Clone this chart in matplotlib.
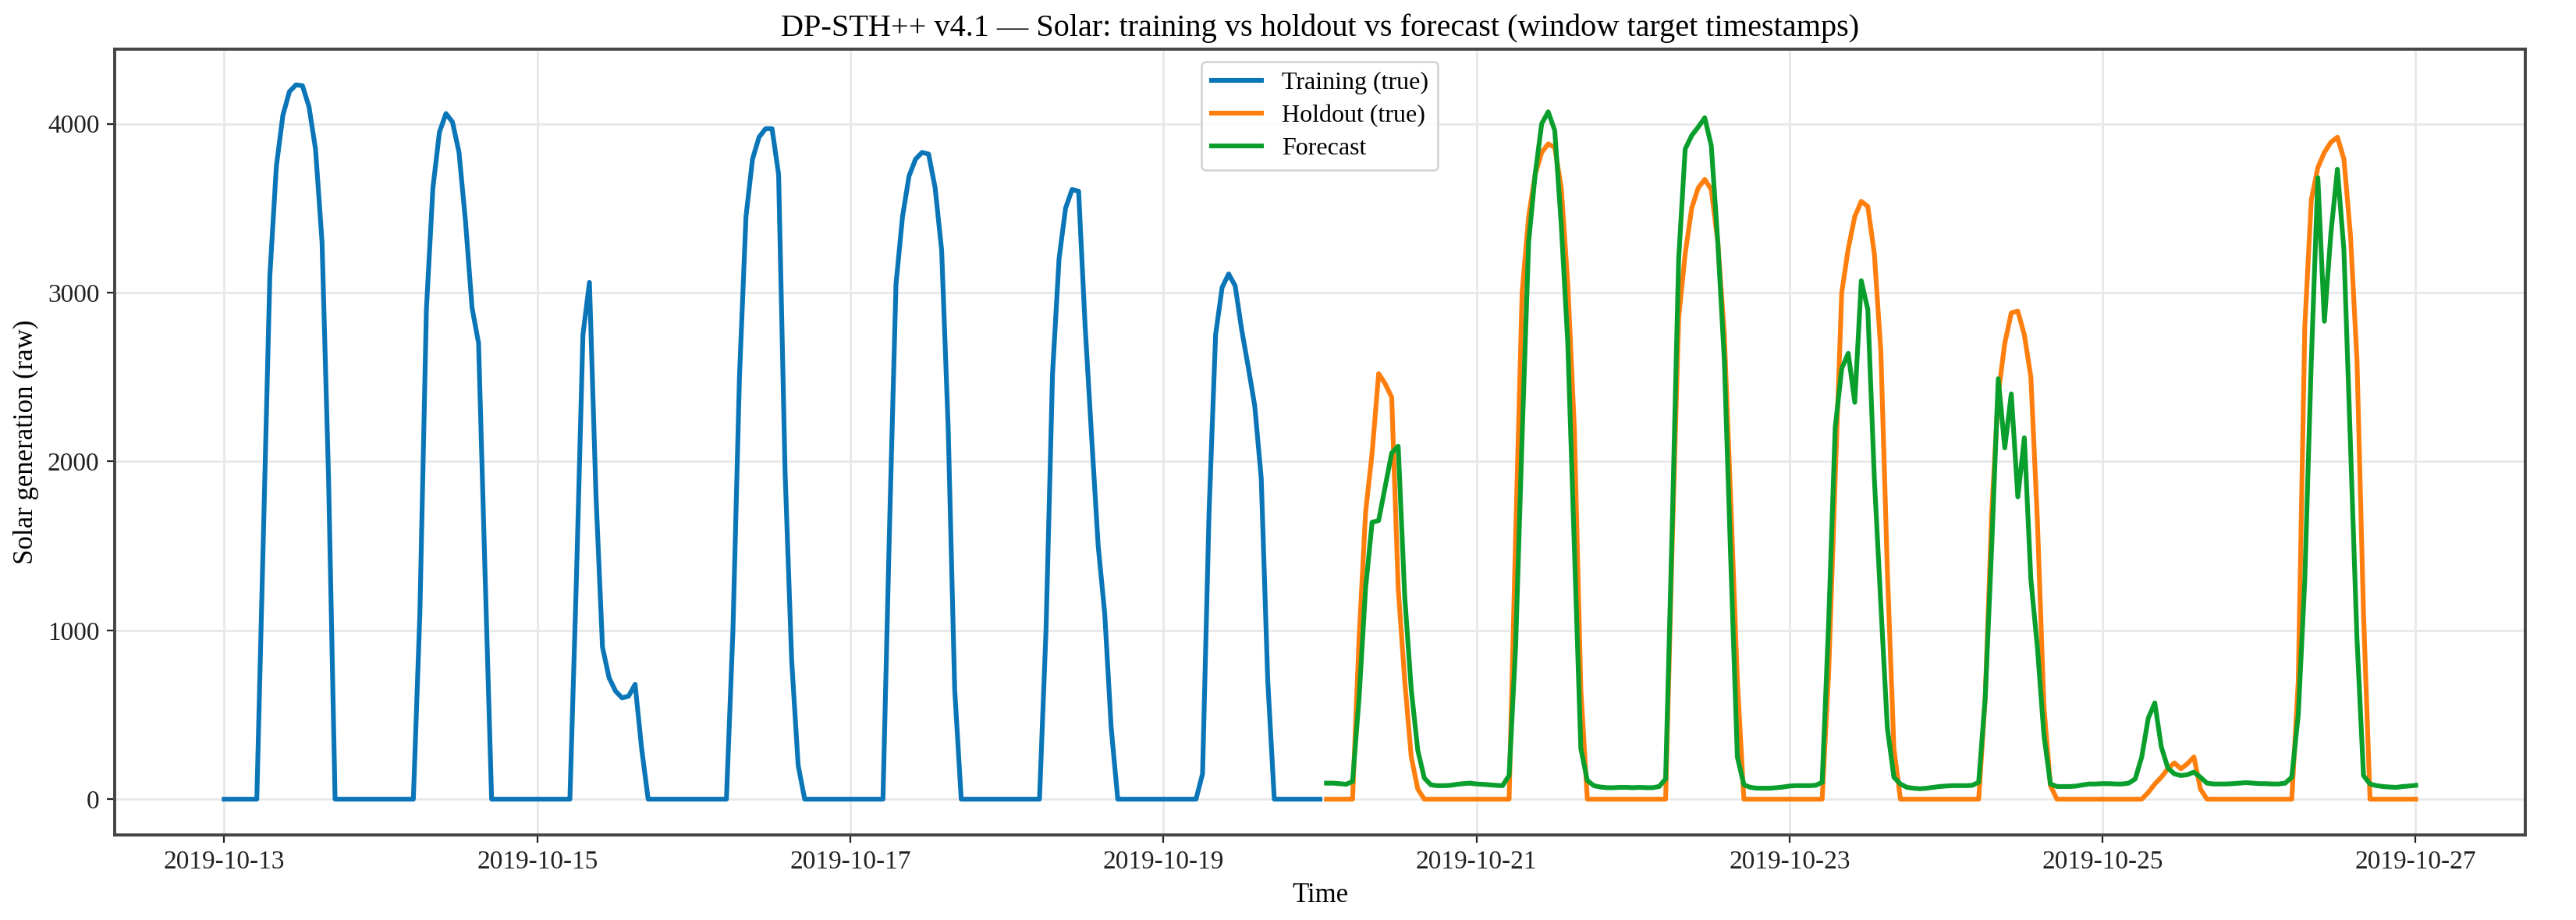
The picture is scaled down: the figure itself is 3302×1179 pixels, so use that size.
import matplotlib
matplotlib.use("Agg")
import matplotlib.pyplot as plt
import matplotlib.dates as mdates
import pandas as pd

plt.rcParams['font.family'] = ['Liberation Serif', 'DejaVu Serif']

# hourly samples, training 2019-10-13 00:00 .. 2019-10-20 00:00
train_start = '2019-10-13 00:00'
train_vals = [
    # 10-13
    0, 0, 0, 0, 0, 0, 1550, 3100, 3750, 4050, 4190, 4230, 4225, 4100, 3850, 3300, 1900, 0, 0, 0, 0, 0, 0, 0,
    # 10-14
    0, 0, 0, 0, 0, 0, 1100, 2900, 3620, 3950, 4060, 4010, 3830, 3420, 2910, 2700, 1330, 0, 0, 0, 0, 0, 0, 0,
    # 10-15
    0, 0, 0, 0, 0, 0, 1300, 2750, 3060, 1800, 900, 720, 640, 600, 610, 680, 300, 0, 0, 0, 0, 0, 0, 0,
    # 10-16
    0, 0, 0, 0, 0, 0, 1000, 2500, 3450, 3790, 3920, 3970, 3970, 3700, 1930, 825, 200, 0, 0, 0, 0, 0, 0, 0,
    # 10-17
    0, 0, 0, 0, 0, 0, 1600, 3050, 3450, 3690, 3790, 3830, 3820, 3620, 3250, 2200, 650, 0, 0, 0, 0, 0, 0, 0,
    # 10-18
    0, 0, 0, 0, 0, 0, 1000, 2520, 3200, 3500, 3610, 3600, 2800, 2140, 1500, 1100, 420, 0, 0, 0, 0, 0, 0, 0,
    # 10-19
    0, 0, 0, 0, 0, 0, 150, 1700, 2750, 3030, 3110, 3040, 2780, 2560, 2330, 1900, 700, 0, 0, 0, 0, 0, 0, 0,
    # 10-20 00:00
    0,
]

# holdout / forecast window targets, 2019-10-20 01:00 .. 2019-10-27 00:00
hold_start = '2019-10-20 01:00'
holdout_vals = [
    # 10-20 (01:00 ..)
    0, 0, 0, 0, 0, 950, 1700, 2050, 2520, 2460, 2380, 1250, 700, 250, 60, 0, 0, 0, 0, 0, 0, 0, 0,
    # 10-21
    0, 0, 0, 0, 0, 0, 1550, 3000, 3450, 3700, 3830, 3880, 3860, 3620, 3050, 2200, 650, 0, 0, 0, 0, 0, 0, 0,
    # 10-22
    0, 0, 0, 0, 0, 0, 1500, 2850, 3230, 3500, 3620, 3670, 3610, 3300, 2750, 1750, 700, 0, 0, 0, 0, 0, 0, 0,
    # 10-23
    0, 0, 0, 0, 0, 0, 750, 1900, 3000, 3260, 3450, 3540, 3510, 3230, 2650, 1350, 300, 0, 0, 0, 0, 0, 0, 0,
    # 10-24
    0, 0, 0, 0, 0, 0, 600, 1700, 2400, 2700, 2880, 2890, 2750, 2500, 1650, 550, 80, 0, 0, 0, 0, 0, 0, 0,
    # 10-25
    0, 0, 0, 0, 0, 0, 0, 40, 90, 130, 180, 215, 180, 210, 250, 60, 0, 0, 0, 0, 0, 0, 0, 0,
    # 10-26 .. 10-27 00:00
    0, 0, 0, 0, 0, 0, 700, 2800, 3550, 3740, 3830, 3890, 3920, 3790, 3340, 2600, 1100, 0, 0, 0, 0, 0, 0, 0, 0,
]

forecast_vals = [
    # 10-20 (01:00 ..)
    95, 95, 92, 88, 105, 600, 1250, 1640, 1650, 1850, 2050, 2090, 1200, 650, 290, 125, 85, 80, 80, 82, 88, 92, 95,
    # 10-21
    90, 88, 85, 82, 80, 140, 900, 2150, 3300, 3700, 4000, 4070, 3960, 3400, 2700, 1500, 300, 110, 80, 72, 68, 68, 70, 70,
    # 10-22
    68, 70, 68, 68, 75, 120, 1600, 3200, 3850, 3930, 3980, 4035, 3870, 3300, 2600, 1400, 250, 85, 70, 65, 65, 65, 68, 72,
    # 10-23
    78, 80, 80, 80, 82, 100, 1050, 2200, 2550, 2640, 2350, 3070, 2900, 1900, 1150, 420, 130, 90, 70, 65, 62, 65, 70, 75,
    # 10-24
    78, 80, 80, 80, 82, 100, 600, 1500, 2490, 2080, 2400, 1790, 2140, 1300, 900, 380, 90, 75, 75, 75, 78, 85, 90, 90,
    # 10-25
    92, 92, 90, 90, 95, 120, 250, 480, 570, 310, 185, 150, 140, 145, 160, 130, 95, 90, 90, 90, 92, 95, 98, 95,
    # 10-26 .. 10-27 00:00
    92, 92, 90, 90, 95, 130, 500, 1300, 2600, 3680, 2830, 3350, 3730, 3250, 2100, 950, 140, 90, 80, 75, 72, 70, 75, 78, 82,
]

train_t = pd.date_range(train_start, periods=len(train_vals), freq='h')
hold_t = pd.date_range(hold_start, periods=len(holdout_vals), freq='h')

fig = plt.figure(figsize=(16.51, 5.895), dpi=200)
ax = fig.add_axes([0.0445, 0.0925, 0.9358, 0.8541])

ax.plot(train_t, train_vals, color='#0a76b8', lw=2.2, label='Training (true)')
ax.plot(hold_t, holdout_vals, color='#ff7f0e', lw=2.2, label='Holdout (true)')
ax.plot(hold_t, forecast_vals, color='#0a9f2d', lw=2.2, label='Forecast')

# ticks on odd days, like the auto locator picked
ax.xaxis.set_major_locator(mdates.DayLocator(bymonthday=range(1, 32, 2)))
ax.xaxis.set_major_formatter(mdates.DateFormatter('%Y-%m-%d'))
ax.set_yticks([0, 1000, 2000, 3000, 4000])

ax.grid(True, color='#e8e8e8', lw=1.0)
ax.set_axisbelow(True)
for s in ax.spines.values():
    s.set_color('#444444')
    s.set_linewidth(1.4)
ax.tick_params(labelsize=12, colors='#222222')

ax.set_title('DP-STH++ v4.1 \u2014 Solar: training vs holdout vs forecast (window target timestamps)',
             fontsize=14.5, pad=6)
ax.set_xlabel('Time', fontsize=12.5)
ax.set_ylabel('Solar generation (raw)', fontsize=12.5)
ax.legend(loc='upper center', fontsize=11.5, handlelength=2.0, labelspacing=0.4, borderaxespad=0.5)

fig.savefig('out.png', dpi=200)
